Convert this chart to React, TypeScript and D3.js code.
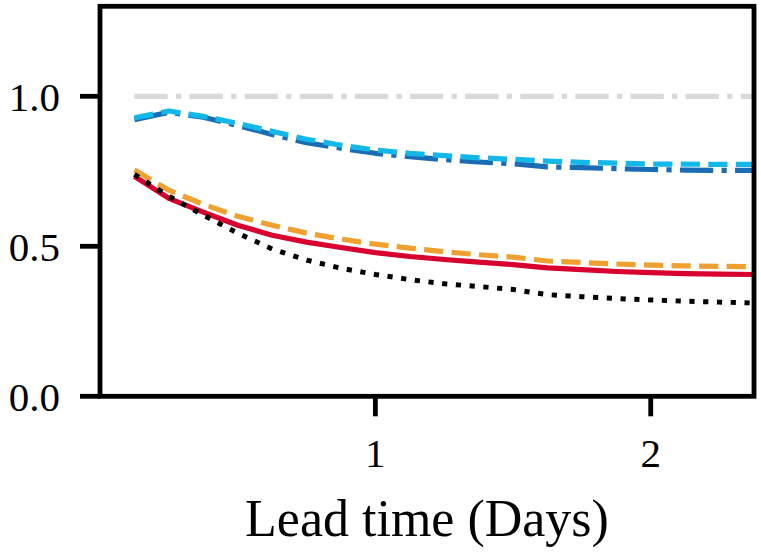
import React, { useEffect, useRef } from 'react';
import * as d3 from 'd3';

// lead times in days (3-hourly)
const leadDays = [0.125, 0.25, 0.375, 0.5, 0.625, 0.75, 0.875, 1.0, 1.125, 1.25, 1.375, 1.5, 1.625, 1.75, 1.875, 2.0, 2.125, 2.25, 2.375];

const lightBlue = [0.928, 0.951, 0.933, 0.910, 0.883, 0.857, 0.837, 0.821, 0.810, 0.802, 0.795, 0.790, 0.784, 0.780, 0.777, 0.774, 0.774, 0.773, 0.773];
const darkBlue = [0.922, 0.947, 0.930, 0.903, 0.873, 0.845, 0.827, 0.810, 0.799, 0.789, 0.781, 0.775, 0.765, 0.762, 0.759, 0.756, 0.754, 0.753, 0.753];
const orange = [0.754, 0.687, 0.640, 0.600, 0.570, 0.544, 0.524, 0.507, 0.494, 0.482, 0.472, 0.464, 0.451, 0.446, 0.441, 0.437, 0.435, 0.433, 0.432];
const red = [0.733, 0.660, 0.614, 0.570, 0.537, 0.514, 0.496, 0.479, 0.466, 0.456, 0.447, 0.439, 0.428, 0.422, 0.416, 0.412, 0.409, 0.407, 0.406];
const black = [0.740, 0.667, 0.604, 0.544, 0.491, 0.454, 0.427, 0.406, 0.389, 0.375, 0.366, 0.356, 0.339, 0.332, 0.326, 0.321, 0.317, 0.314, 0.311];
const reference = leadDays.map(() => 1.0);

const xTicks = [1, 2];
const yTicks = [0.0, 0.5, 1.0];

export default function App() {
  const ref = useRef<SVGSVGElement>(null);

  useEffect(() => {
    if (!ref.current) return;
    document.body.style.margin = '0';
    const svg = d3.select(ref.current);
    svg.selectAll('*').remove();

    const left = 100, right = 754, top = 6.3, bottom = 396.3;
    const lw = 5.2;

    const x = d3.scaleLinear().domain([0, 2.375]).range([left, right]);
    const y = d3.scaleLinear().domain([0, 1.3]).range([bottom, top]);

    const line = d3.line<number>()
      .x((_, i) => x(leadDays[i]))
      .y(d => y(d));

    const dashed = `${3.7 * lw} ${1.6 * lw}`;
    const dashdot = `${6.4 * lw} ${1.6 * lw} ${1 * lw} ${1.6 * lw}`;
    const dotted = `${1 * lw} ${1.65 * lw}`;

    const series = [
      { data: reference, color: '#d9d9d9', dash: dashdot, w: lw },
      { data: orange, color: '#f0a030', dash: dashed, w: lw },
      { data: red, color: '#d7002f', dash: null, w: lw },
      { data: black, color: '#000000', dash: dotted, w: lw * 0.95 },
      { data: darkBlue, color: '#1a6db5', dash: dashdot, w: lw },
      { data: lightBlue, color: '#14b8e8', dash: dashed, w: lw },
    ];

    const plot = svg.append('g');
    series.forEach(s => {
      const p = plot.append('path')
        .attr('d', line(s.data))
        .attr('fill', 'none')
        .attr('stroke', s.color)
        .attr('stroke-width', s.w)
        .attr('stroke-linecap', 'butt')
        .attr('stroke-linejoin', 'round');
      if (s.dash) p.attr('stroke-dasharray', s.dash);
    });

    // frame
    svg.append('rect')
      .attr('x', left).attr('y', top)
      .attr('width', right - left).attr('height', bottom - top)
      .attr('fill', 'none')
      .attr('stroke', '#000')
      .attr('stroke-width', 4.8);

    const font = '"Liberation Serif", "Times New Roman", serif';

    // y ticks
    const yg = svg.append('g');
    yTicks.forEach(t => {
      yg.append('line')
        .attr('x1', left - 20).attr('x2', left)
        .attr('y1', y(t)).attr('y2', y(t))
        .attr('stroke', '#000').attr('stroke-width', 4.8);
      yg.append('text')
        .attr('x', 60)
        .attr('y', y(t) + 15)
        .attr('text-anchor', 'end')
        .attr('font-family', font)
        .attr('font-size', 41)
        .text(t.toFixed(1));
    });

    // x ticks
    const xg = svg.append('g');
    xTicks.forEach(t => {
      xg.append('line')
        .attr('x1', x(t)).attr('x2', x(t))
        .attr('y1', bottom).attr('y2', bottom + 20)
        .attr('stroke', '#000').attr('stroke-width', 4.8);
      xg.append('text')
        .attr('x', x(t))
        .attr('y', 467)
        .attr('text-anchor', 'middle')
        .attr('font-family', font)
        .attr('font-size', 41)
        .text(String(t));
    });

    svg.append('text')
      .attr('x', (left + right) / 2)
      .attr('y', 536)
      .attr('text-anchor', 'middle')
      .attr('font-family', font)
      .attr('font-size', 52)
      .text('Lead time (Days)');
  }, []);

  return (
    <svg ref={ref} width={761} height={555} style={{ display: 'block', background: '#fff' }} />
  );
}
